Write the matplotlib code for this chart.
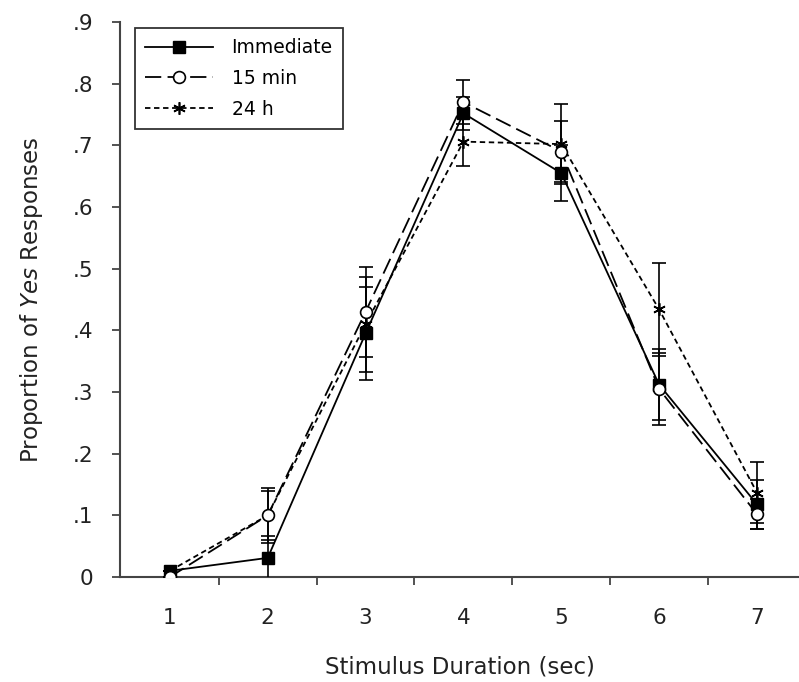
import matplotlib
matplotlib.use("Agg")
import matplotlib.pyplot as plt
from matplotlib.lines import Line2D

durations = [1, 2, 3, 4, 5, 6, 7]
immediate = [0.010, 0.031, 0.395, 0.752, 0.655, 0.312, 0.118]
immediate_err = [0.000, 0.035, 0.075, 0.027, 0.045, 0.057, 0.040]
min15 = [0.000, 0.100, 0.430, 0.770, 0.690, 0.305, 0.102]
min15_err = [0.000, 0.045, 0.073, 0.036, 0.050, 0.058, 0.024]
h24 = [0.010, 0.100, 0.410, 0.706, 0.702, 0.434, 0.137]
h24_err = [0.000, 0.040, 0.077, 0.040, 0.065, 0.075, 0.050]
labels = ["Immediate", "15 min", "24 h"]
ytick_vals = [0, .1, .2, .3, .4, .5, .6, .7, .8, .9]
ytick_labels = ["0", ".1", ".2", ".3", ".4", ".5", ".6", ".7", ".8", ".9"]

plt.rcParams['font.family'] = ['DejaVu Sans']
fig = plt.figure(figsize=(7.99, 6.82), dpi=100)
ax = fig.add_axes([120/799, 1-577/682, 1-120/799, (577-22)/682])

lw = 1.3
styles = [
    dict(marker='s', ms=9, mfc='black', mec='black', ls='-'),
    dict(marker='o', ms=8.5, mfc='white', mec='black', mew=1.2, ls=(0, (9, 3.5))),
    dict(marker=(6, 2, 0), ms=9, mec='black', mew=1.2, ls=(0, (3, 2))),
]
series = [(immediate, immediate_err, 3), (min15, min15_err, 4), (h24, h24_err, 2)]
handles = []
for (vals, errs, z), st, lab in zip(series, styles, labels):
    ax.errorbar(durations, vals, yerr=errs, color='black', lw=lw, capsize=5,
                elinewidth=1.2, capthick=1.2, zorder=z, **st)
    handles.append(Line2D([], [], color='black', lw=lw, label=lab, **st))

ax.set_xlim(0.49, 7.43)
ax.set_ylim(0, 0.9)
ax.spines['top'].set_visible(False)
ax.spines['right'].set_visible(False)
for s in ['left', 'bottom']:
    ax.spines[s].set_color('#444444')
    ax.spines[s].set_linewidth(1.5)

ax.set_yticks(ytick_vals)
ax.set_yticklabels(ytick_labels)
ax.tick_params(axis='y', direction='out', length=6, width=1.3, color='#444444',
               pad=13, labelsize=15.5, labelcolor='#222222')
ax.set_xticks(durations)
ax.set_xticklabels([str(d) for d in durations])
ax.set_xticks([1.5, 2.5, 3.5, 4.5, 5.5, 6.5], minor=True)
ax.tick_params(axis='x', which='major', length=0, pad=22, labelsize=15.5,
               labelcolor='#222222')
ax.tick_params(axis='x', which='minor', direction='out', length=6, width=1.3,
               color='#444444')

ax.set_xlabel("Stimulus Duration (sec)", fontsize=16.5, labelpad=20, color='#222222')
ax.set_ylabel("Proportion of $\\it{Yes}$ Responses", fontsize=16.5, labelpad=20,
              color='#222222')

leg = ax.legend(handles=handles, loc='upper left', bbox_to_anchor=(0.022, 0.989),
                fontsize=13.5, frameon=True, fancybox=False, edgecolor='black',
                handlelength=3.6, borderpad=0.55, labelspacing=0.62,
                handletextpad=1.0, borderaxespad=0)
leg.get_frame().set_linewidth(1.3)

fig.savefig("out.png", dpi=100)
